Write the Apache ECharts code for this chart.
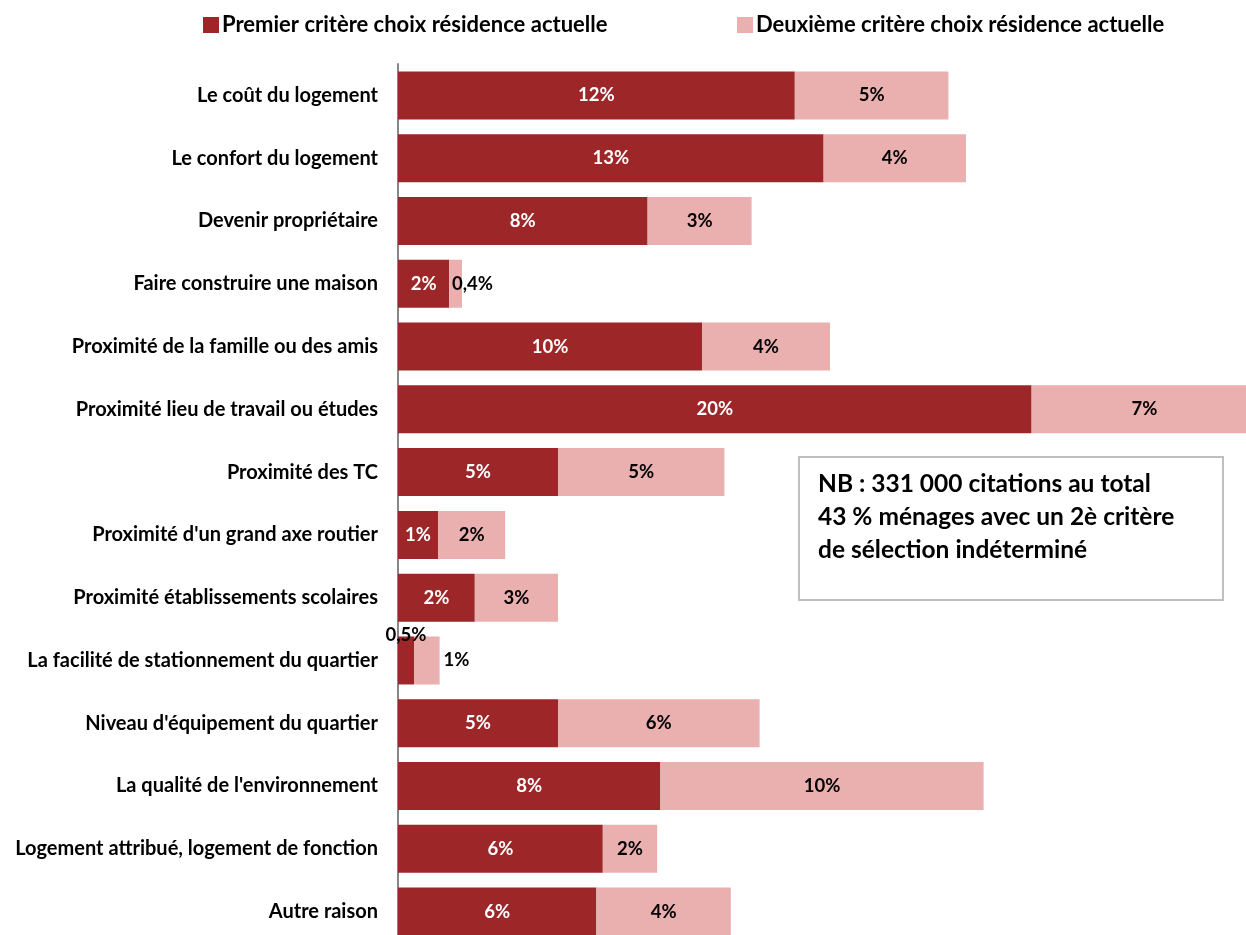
<!DOCTYPE html>
<html>
<head>
<meta charset="utf-8">
<script src="https://cdn.jsdelivr.net/npm/echarts@6/dist/echarts.min.js"></script>
<style>
  html, body { margin: 0; padding: 0; background: #fff; }
  #chart { width: 1246px; height: 935px; }
</style>
</head>
<body>
<div id="chart"></div>
<script>
// Critères de choix de la résidence actuelle (en % des citations)
const categories = [
  'Le coût du logement',
  'Le confort du logement',
  'Devenir propriétaire',
  'Faire construire une maison',
  'Proximité de la famille ou des amis',
  'Proximité lieu de travail ou études',
  'Proximité des TC',
  "Proximité d'un grand axe routier",
  'Proximité établissements scolaires',
  'La facilité de stationnement du quartier',
  "Niveau d'équipement du quartier",
  "La qualité de l'environnement",
  'Logement attribué, logement de fonction',
  'Autre raison'
];
const premierCritere  = [12.4, 13.3, 7.8, 1.6, 9.5, 19.8, 5.0, 1.25, 2.4, 0.5, 5.0, 8.2, 6.4, 6.2];
const deuxiemeCritere = [4.8, 4.45, 3.25, 0.4, 4.0, 7.05, 5.2, 2.1, 2.6, 0.8, 6.3, 10.1, 1.7, 4.2];
const seriesNames = ['Premier critère choix résidence actuelle', 'Deuxième critère choix résidence actuelle'];
const noteLines = [
  'NB : 331 000 citations au total',
  '43 % ménages avec un 2è critère',
  'de sélection indéterminé'
];

const FONT = 'Lato';
const DARK = '#9C2628';
const LIGHT = '#EAAFAF';

function pct(v) {
  return v < 0.6 ? v.toFixed(1).replace('.', ',') + '%' : Math.round(v) + '%';
}

// Small segments get their label moved outside the bar
const premierLabelOverride = {
  9: { position: 'top', distance: -8, color: '#000' }
};
const deuxiemeLabelOverride = {
  3: { position: 'right', distance: -10 },
  9: { position: 'right', distance: 4 }
};

function buildData(values, overrides) {
  return values.map((v, i) => overrides[i] ? { value: v, label: overrides[i] } : v);
}

const chart = echarts.init(document.getElementById('chart'));
const labelBase = { show: true, position: 'inside', fontFamily: FONT, fontWeight: 'bold', fontSize: 18.5, formatter: p => pct(p.value) };
const legendText = { fontFamily: FONT, fontWeight: 'bold', fontSize: 22, color: '#000', padding: [0, 0, 0, -2] };

chart.setOption({
  animation: false,
  backgroundColor: '#fff',
  textStyle: { fontFamily: FONT },
  legend: [
    {
      data: [seriesNames[0]], left: 203, top: 14, padding: 0,
      itemWidth: 16, itemHeight: 16, itemGap: 0, icon: 'rect',
      textStyle: legendText
    },
    {
      data: [seriesNames[1]], left: 737, top: 14, padding: 0,
      itemWidth: 16, itemHeight: 16, itemGap: 0, icon: 'rect',
      textStyle: legendText
    }
  ],
  grid: { left: 398, top: 64, width: 864, height: 879, outerBoundsMode: 'none', containLabel: false },
  xAxis: {
    type: 'value', min: 0, max: 27,
    show: false
  },
  yAxis: {
    type: 'category', data: categories, inverse: true,
    axisLine: { show: true, lineStyle: { color: '#878787', width: 2 } },
    axisTick: { show: false },
    axisLabel: { margin: 20, fontFamily: FONT, fontWeight: 'bold', fontSize: 20, color: '#000' }
  },
  series: [
    {
      name: seriesNames[0], type: 'bar', stack: 'total', barWidth: 48,
      itemStyle: { color: DARK },
      label: Object.assign({}, labelBase, { color: '#fff' }),
      data: buildData(premierCritere, premierLabelOverride)
    },
    {
      name: seriesNames[1], type: 'bar', stack: 'total', barWidth: 48,
      itemStyle: { color: LIGHT },
      label: Object.assign({}, labelBase, { color: '#000' }),
      data: buildData(deuxiemeCritere, deuxiemeLabelOverride)
    }
  ],
  graphic: [
    {
      type: 'rect', left: 798, top: 456, z: 100,
      shape: { width: 424, height: 143 },
      style: { fill: '#fff', stroke: '#BFBFBF', lineWidth: 2 }
    },
    {
      type: 'text', left: 818, top: 468, z: 101,
      style: {
        text: noteLines.join('\n'), fill: '#000',
        font: 'bold 24.5px ' + FONT, lineHeight: 33
      }
    }
  ]
});
</script>
</body>
</html>
